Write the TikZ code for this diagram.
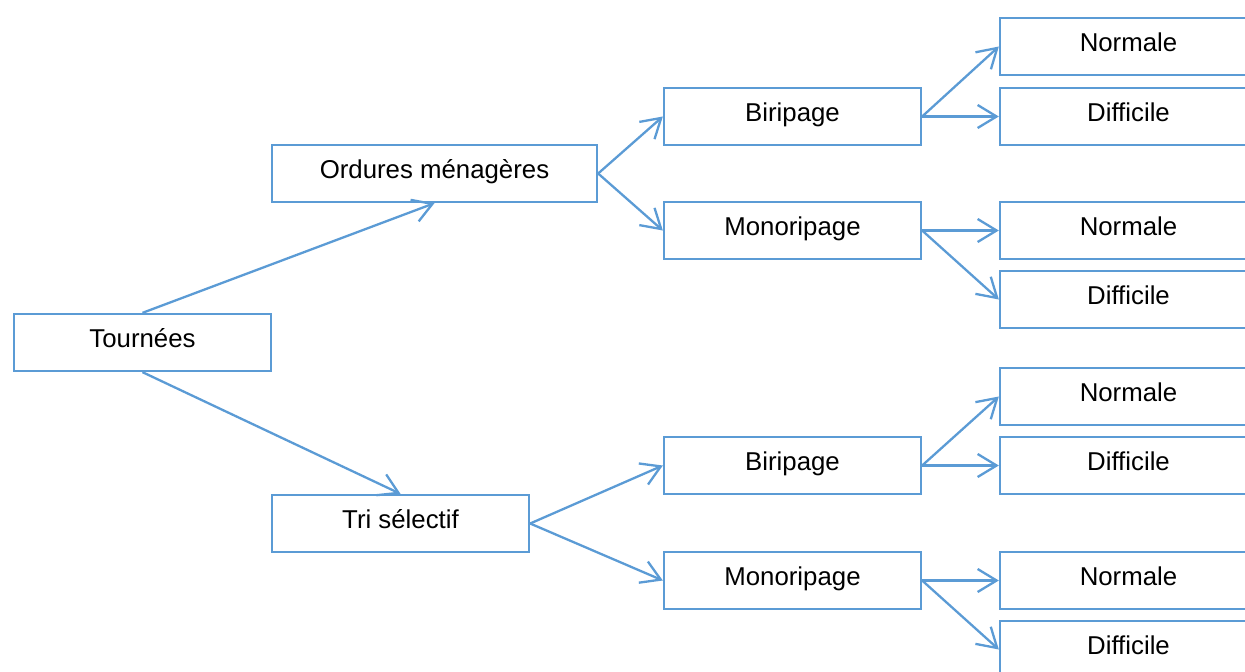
\documentclass[tikz,border=0pt]{standalone}
\usepackage{fontspec}
\setmainfont{Liberation Sans}
\usetikzlibrary{arrows.meta}
\definecolor{officeblue}{RGB}{91,155,213}
\tikzset{
  box/.style={draw=officeblue, line width=2.3pt, fill=white, minimum height=57pt,
    minimum width=257pt, inner sep=0pt, text height=18pt, text depth=8pt,
    font=\fontsize{25.8}{30}\selectfont, anchor=center},
  conn/.style={draw=officeblue, line width=2.3pt,
    -{Straight Barb[length=19pt,width=23pt,line width=2.3pt]}}
}
\begin{document}
\begin{tikzpicture}[x=1pt,y=-1pt]
\useasboundingbox (0,0) rectangle (1245,672);
\node[box] (T) at (142.5,342.5) {Tournées};
\node[box, minimum width=325pt] (O) at (434.5,173.5) {Ordures ménagères};
\node[box] (S) at (400.5,523.5) {Tri sélectif};
\node[box] (B1) at (792.5,116.5) {Biripage};
\node[box] (M1) at (792.5,230.5) {Monoripage};
\node[box] (B2) at (792.5,465.5) {Biripage};
\node[box] (M2) at (792.5,580.5) {Monoripage};
\node[box] (N1) at (1128.5,46.5) {Normale};
\node[box] (D1) at (1128.5,116.5) {Difficile};
\node[box] (N2) at (1128.5,230.5) {Normale};
\node[box] (D2) at (1128.5,299.5) {Difficile};
\node[box] (N3) at (1128.5,396.5) {Normale};
\node[box] (D3) at (1128.5,465.5) {Difficile};
\node[box] (N4) at (1128.5,580.5) {Normale};
\node[box] (D4) at (1128.5,649.5) {Difficile};
\draw[conn] (T.north) -- (O.south);
\draw[conn] (T.south) -- (S.north);
\draw[conn] (O.east) -- (B1.west);
\draw[conn] (O.east) -- (M1.west);
\draw[conn] (S.east) -- (B2.west);
\draw[conn] (S.east) -- (M2.west);
\draw[conn] (B1.east) -- (N1.west);
\draw[conn] (B1.east) -- (D1.west);
\draw[conn] (M1.east) -- (N2.west);
\draw[conn] (M1.east) -- (D2.west);
\draw[conn] (B2.east) -- (N3.west);
\draw[conn] (B2.east) -- (D3.west);
\draw[conn] (M2.east) -- (N4.west);
\draw[conn] (M2.east) -- (D4.west);
\end{tikzpicture}
\end{document}
